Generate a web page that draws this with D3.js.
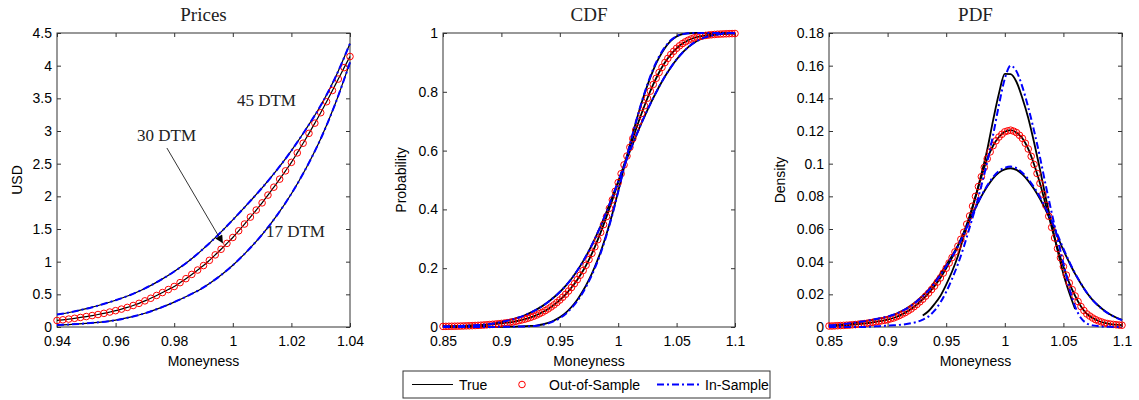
<!DOCTYPE html>
<html><head><meta charset="utf-8">
<script src="https://cdn.jsdelivr.net/npm/d3@7"></script>
<style>body{margin:0;background:#fff;} svg{display:block;}</style>
</head><body>
<svg id="chart" width="1139" height="400"></svg>
<script>
// ---------- DATA ----------
// Prices panel (x = moneyness)
const priceGridStart = 0.94, priceGridStep = 0.005;      // 17 & 45 DTM curves
const priceOutStart = 0.94, priceOutStep = 0.002;        // 30 DTM curve / circles
const price17True = [0.030,0.040,0.055,0.075,0.105,0.150,0.210,0.288,0.380,0.485,0.605,0.760,0.945,1.165,1.415,1.705,2.040,2.430,2.880,3.420,4.050];
const price45True = [0.190,0.230,0.280,0.340,0.410,0.490,0.590,0.710,0.850,1.010,1.200,1.410,1.640,1.880,2.130,2.400,2.700,3.030,3.390,3.820,4.340];
const price30True = [0.100,0.110,0.121,0.133,0.146,0.160,0.175,0.191,0.209,0.229,0.250,0.274,0.300,0.329,0.362,0.400,0.440,0.483,0.527,0.573,0.620,0.679,0.740,0.805,0.872,0.940,1.020,1.104,1.190,1.280,1.370,1.472,1.576,1.682,1.790,1.900,2.019,2.140,2.263,2.390,2.520,2.665,2.813,2.964,3.120,3.280,3.448,3.620,3.795,3.970,4.140];
const price30Out = price30True.slice();
const price17In = price17True.slice();
const price45In = price45True.slice();

// CDF / PDF panels
const distStart = 0.85, distStep = 0.005, outStep = 0.0025;
const cdf17True = [0,0,0,0,0.0001,0.0001,0.0002,0.0003,0.0004,0.0006,0.0008,0.0010,0.0014,0.0019,0.0026,0.0035,0.0050,0.0085,0.0140,0.0220,0.0330,0.0480,0.0680,0.0930,0.1240,0.1610,0.2050,0.2560,0.3160,0.3850,0.4620,0.5420,0.6200,0.6940,0.7620,0.8220,0.8740,0.9160,0.9490,0.9730,0.9880,0.9960,0.9990,1,1,1,1,1,1,1,1];
const cdf30True = [0.0020,0.0023,0.0027,0.0032,0.0039,0.0046,0.0056,0.0068,0.0082,0.0100,0.0121,0.0146,0.0177,0.0217,0.0266,0.0328,0.0405,0.0500,0.0615,0.0752,0.0917,0.1113,0.1343,0.1611,0.1921,0.2292,0.2727,0.3217,0.3754,0.4324,0.4914,0.5514,0.6113,0.6699,0.7260,0.7781,0.8250,0.8656,0.8995,0.9268,0.9480,0.9640,0.9755,0.9834,0.9885,0.9919,0.9942,0.9958,0.9969,0.9977,0.9983];
const cdf45True = [0.0020,0.0025,0.0030,0.0036,0.0043,0.0052,0.0064,0.0080,0.0100,0.0130,0.0170,0.0215,0.0265,0.0325,0.0400,0.0490,0.0590,0.0710,0.0850,0.1010,0.1190,0.1400,0.1640,0.1920,0.2240,0.2600,0.3000,0.3440,0.3920,0.4430,0.4950,0.5470,0.5980,0.6470,0.6940,0.7380,0.7790,0.8170,0.8520,0.8830,0.9100,0.9330,0.9520,0.9670,0.9780,0.9860,0.9915,0.9950,0.9972,0.9985,0.9992];
const cdf30Out = [0.0020,0.0021,0.0023,0.0025,0.0027,0.0029,0.0032,0.0035,0.0039,0.0042,0.0046,0.0051,0.0056,0.0062,0.0068,0.0075,0.0082,0.0091,0.0100,0.0110,0.0121,0.0133,0.0146,0.0161,0.0177,0.0196,0.0217,0.0241,0.0266,0.0296,0.0328,0.0365,0.0405,0.0451,0.0500,0.0556,0.0615,0.0682,0.0752,0.0832,0.0917,0.1012,0.1113,0.1224,0.1343,0.1474,0.1611,0.1762,0.1921,0.2100,0.2292,0.2505,0.2727,0.2969,0.3217,0.3482,0.3754,0.4037,0.4324,0.4617,0.4914,0.5214,0.5514,0.5815,0.6113,0.6408,0.6699,0.6984,0.7260,0.7525,0.7781,0.8021,0.8250,0.8459,0.8656,0.8831,0.8995,0.9136,0.9268,0.9378,0.9480,0.9564,0.9640,0.9700,0.9755,0.9797,0.9834,0.9862,0.9885,0.9903,0.9919,0.9931,0.9942,0.9951,0.9958,0.9964,0.9969,0.9973,0.9977,0.9980,0.9983];
const cdf17In = [0,0,0,0,0,0,0.0001,0.0002,0.0003,0.0004,0.0006,0.0008,0.0011,0.0015,0.0021,0.0029,0.0042,0.0072,0.0122,0.0198,0.0302,0.0445,0.0640,0.0885,0.1190,0.1560,0.2000,0.2515,0.3120,0.3820,0.4600,0.5410,0.6200,0.6950,0.7640,0.8250,0.8780,0.9200,0.9520,0.9750,0.9890,0.9960,0.9990,1,1,1,1,1,1,1,1];
const cdf45In = cdf45True.slice();

const pdf17Start = 0.93;
const pdf17True = [0.0070,0.0098,0.0140,0.0190,0.0260,0.0340,0.0435,0.0555,0.0670,0.0795,0.0935,0.1085,0.1265,0.1430,0.1550,0.1548,0.1500,0.1400,0.1280,0.1130,0.0965,0.0790,0.0630,0.0470,0.0325,0.0210,0.0110];
const pdf17In = [0,0,0,0,0,0,0,0.0002,0.0004,0.0006,0.0008,0.0010,0.0013,0.0017,0.0023,0.0031,0.0045,0.0065,0.0100,0.0150,0.0215,0.0295,0.0385,0.0490,0.0610,0.0730,0.0865,0.1010,0.1175,0.1360,0.1520,0.1600,0.1565,0.1470,0.1345,0.1200,0.1040,0.0865,0.0700,0.0540,0.0390,0.0240,0.0125,0.0055,0.0022,0.0010,0.0005,0.0002,0.0001,0,0];
const pdf30True = [0.0006,0.0007,0.0009,0.0011,0.0014,0.0017,0.0021,0.0026,0.0032,0.0038,0.0045,0.0055,0.0070,0.0088,0.0110,0.0138,0.0170,0.0208,0.0250,0.0300,0.0360,0.0425,0.0495,0.0580,0.0680,0.0800,0.0920,0.1030,0.1110,0.1163,0.1195,0.1205,0.1190,0.1155,0.1090,0.0995,0.0880,0.0745,0.0610,0.0480,0.0370,0.0270,0.0190,0.0125,0.0080,0.0055,0.0037,0.0025,0.0018,0.0014,0.0011];
const pdf30Out = [0.0006,0.0006,0.0007,0.0008,0.0009,0.0010,0.0011,0.0012,0.0014,0.0015,0.0017,0.0019,0.0021,0.0023,0.0026,0.0029,0.0032,0.0035,0.0038,0.0041,0.0045,0.0050,0.0055,0.0062,0.0070,0.0079,0.0088,0.0099,0.0110,0.0124,0.0138,0.0154,0.0170,0.0189,0.0208,0.0229,0.0250,0.0275,0.0300,0.0330,0.0360,0.0392,0.0425,0.0460,0.0495,0.0537,0.0580,0.0630,0.0680,0.0740,0.0800,0.0860,0.0920,0.0977,0.1030,0.1072,0.1110,0.1140,0.1163,0.1180,0.1195,0.1201,0.1205,0.1199,0.1190,0.1174,0.1155,0.1125,0.1090,0.1045,0.0995,0.0940,0.0880,0.0813,0.0745,0.0678,0.0610,0.0545,0.0480,0.0424,0.0370,0.0318,0.0270,0.0229,0.0190,0.0156,0.0125,0.0101,0.0080,0.0067,0.0055,0.0045,0.0037,0.0031,0.0025,0.0021,0.0018,0.0016,0.0014,0.0012,0.0011];
const pdf45True = [0.0010,0.0012,0.0015,0.0019,0.0023,0.0028,0.0034,0.0040,0.0047,0.0054,0.0062,0.0074,0.0090,0.0109,0.0132,0.0160,0.0192,0.0228,0.0275,0.0325,0.0380,0.0437,0.0500,0.0575,0.0655,0.0730,0.0800,0.0860,0.0910,0.0945,0.0965,0.0972,0.0962,0.0935,0.0895,0.0845,0.0785,0.0715,0.0640,0.0555,0.0470,0.0395,0.0325,0.0265,0.0210,0.0165,0.0130,0.0100,0.0077,0.0058,0.0043];
const pdf45In = [0.0011,0.0013,0.0016,0.0020,0.0025,0.0030,0.0036,0.0042,0.0049,0.0056,0.0064,0.0075,0.0090,0.0108,0.0130,0.0157,0.0188,0.0224,0.0268,0.0318,0.0372,0.0430,0.0493,0.0568,0.0650,0.0728,0.0802,0.0866,0.0918,0.0955,0.0975,0.0982,0.0972,0.0945,0.0905,0.0855,0.0795,0.0725,0.0650,0.0565,0.0480,0.0400,0.0328,0.0266,0.0210,0.0165,0.0129,0.0099,0.0076,0.0057,0.0042];

// Tick values and labels
const priceXTicks = [0.94,0.96,0.98,1.00,1.02,1.04];
const priceXLabels = ["0.94","0.96","0.98","1","1.02","1.04"];
const priceYTicks = [0,0.5,1,1.5,2,2.5,3,3.5,4,4.5];
const priceYLabels = ["0","0.5","1","1.5","2","2.5","3","3.5","4","4.5"];
const distXTicks = [0.85,0.90,0.95,1.00,1.05,1.10];
const distXLabels = ["0.85","0.9","0.95","1","1.05","1.1"];
const cdfYTicks = [0,0.2,0.4,0.6,0.8,1];
const cdfYLabels = ["0","0.2","0.4","0.6","0.8","1"];
const pdfYTicks = [0,0.02,0.04,0.06,0.08,0.10,0.12,0.14,0.16,0.18];
const pdfYLabels = ["0","0.02","0.04","0.06","0.08","0.1","0.12","0.14","0.16","0.18"];
const legendLabels = ["True","Out-of-Sample","In-Sample"];
const annotations = [["45 DTM", 1.0014, 3.38], ["30 DTM", 0.9673, 2.85], ["17 DTM", 1.0113, 1.37]];

// ---------- DRAWING ----------
const svg = d3.select("#chart");
const SANS = "'Liberation Sans', Arial, Helvetica, sans-serif";
const SERIF = "'Liberation Serif', 'Times New Roman', serif";
const TOP = 33, BOT = 327;
const DASH = "7,3,2,3";

function pts(vals, start, step) { return vals.map((v, i) => [start + i * step, v]); }

function panel(cfg) {
  const x = d3.scaleLinear().domain(cfg.xd).range([cfg.x0, cfg.x1]);
  const y = d3.scaleLinear().domain(cfg.yd).range([BOT, TOP]);
  const g = svg.append("g");
  const fmtX = d => cfg.xl[cfg.xt.indexOf(d)];
  const fmtY = d => cfg.yl[cfg.yt.indexOf(d)];
  const style = sel => {
    sel.select(".domain").remove();
    sel.selectAll(".tick line").attr("stroke", "#333");
    sel.selectAll(".tick text").attr("font-family", SANS).attr("font-size", 14).attr("fill", "#000");
  };
  g.append("g").attr("transform", `translate(0,${BOT})`)
    .call(d3.axisBottom(x).tickValues(cfg.xt).tickFormat(fmtX).tickSizeInner(-4).tickSizeOuter(0).tickPadding(9)).call(style);
  g.append("g").attr("transform", `translate(0,${TOP})`)
    .call(d3.axisTop(x).tickValues(cfg.xt).tickFormat("").tickSizeInner(-4).tickSizeOuter(0)).call(style);
  g.append("g").attr("transform", `translate(${cfg.x0},0)`)
    .call(d3.axisLeft(y).tickValues(cfg.yt).tickFormat(fmtY).tickSizeInner(-4).tickSizeOuter(0).tickPadding(5)).call(style);
  g.append("g").attr("transform", `translate(${cfg.x1},0)`)
    .call(d3.axisRight(y).tickValues(cfg.yt).tickFormat("").tickSizeInner(-4).tickSizeOuter(0)).call(style);
  g.append("rect").attr("x", cfg.x0).attr("y", TOP).attr("width", cfg.x1 - cfg.x0).attr("height", BOT - TOP)
    .attr("fill", "none").attr("stroke", "#333").attr("stroke-width", 1);

  g.append("text").attr("x", (cfg.x0 + cfg.x1) / 2).attr("y", 21).attr("text-anchor", "middle")
    .attr("font-family", SERIF).attr("font-size", 19).attr("fill", "#222").text(cfg.title);
  g.append("text").attr("x", (cfg.x0 + cfg.x1) / 2).attr("y", 366).attr("text-anchor", "middle")
    .attr("font-family", SANS).attr("font-size", 14).text("Moneyness");
  g.append("text").attr("transform", `translate(${cfg.ylx},180) rotate(-90)`).attr("text-anchor", "middle")
    .attr("font-family", SANS).attr("font-size", 14).text(cfg.ylabel);

  const line = d3.line().x(d => x(d[0])).y(d => y(d[1])).curve(d3.curveMonotoneX);
  cfg.trueSeries.forEach(s => g.append("path").attr("d", line(s)).attr("fill", "none")
    .attr("stroke", "#000").attr("stroke-width", cfg.blackW));
  g.append("g").selectAll("circle").data(cfg.outSeries).join("circle")
    .attr("cx", d => x(d[0])).attr("cy", d => y(d[1])).attr("r", 3.3)
    .attr("fill", "none").attr("stroke", "#ff0000").attr("stroke-width", 1);
  cfg.inSeries.forEach(s => g.append("path").attr("d", line(s)).attr("fill", "none")
    .attr("stroke", "#0000ff").attr("stroke-width", 2).attr("stroke-dasharray", DASH));
  return { g, x, y };
}

// Prices
const P = panel({
  title: "Prices", ylabel: "USD", ylx: 21.5, blackW: 1.2,
  x0: 57, x1: 350, xd: [0.94, 1.04], yd: [0, 4.5],
  xt: priceXTicks, xl: priceXLabels, yt: priceYTicks, yl: priceYLabels,
  trueSeries: [pts(price17True, priceGridStart, priceGridStep), pts(price30True, priceOutStart, priceOutStep), pts(price45True, priceGridStart, priceGridStep)],
  outSeries: pts(price30Out, priceOutStart, priceOutStep),
  inSeries: [pts(price17In, priceGridStart, priceGridStep), pts(price45In, priceGridStart, priceGridStep)]
});
annotations.forEach(a => P.g.append("text").attr("x", P.x(a[1])).attr("y", P.y(a[2]))
  .attr("font-family", SERIF).attr("font-size", 17).attr("fill", "#222").text(a[0]));
svg.append("defs").append("marker").attr("id", "ah").attr("viewBox", "0 0 10 10")
  .attr("refX", 10).attr("refY", 5).attr("markerWidth", 10).attr("markerHeight", 8)
  .attr("markerUnits", "userSpaceOnUse").attr("orient", "auto")
  .append("path").attr("d", "M0,0 L10,5 L0,10 Z").attr("fill", "#000");
P.g.append("line").attr("x1", P.x(0.9775)).attr("y1", P.y(2.74)).attr("x2", P.x(0.9966)).attr("y2", P.y(1.28))
  .attr("stroke", "#000").attr("stroke-width", 0.8).attr("marker-end", "url(#ah)");

// CDF
panel({
  title: "CDF", ylabel: "Probability", ylx: 406, blackW: 1.8,
  x0: 443, x1: 735, xd: [0.85, 1.1], yd: [0, 1],
  xt: distXTicks, xl: distXLabels, yt: cdfYTicks, yl: cdfYLabels,
  trueSeries: [pts(cdf17True, distStart, distStep), pts(cdf30True, distStart, distStep), pts(cdf45True, distStart, distStep)],
  outSeries: pts(cdf30Out, distStart, outStep),
  inSeries: [pts(cdf17In, distStart, distStep), pts(cdf45In, distStart, distStep)]
});

// PDF
panel({
  title: "PDF", ylabel: "Density", ylx: 785, blackW: 1.8,
  x0: 829, x1: 1122, xd: [0.85, 1.1], yd: [0, 0.18],
  xt: distXTicks, xl: distXLabels, yt: pdfYTicks, yl: pdfYLabels,
  trueSeries: [pts(pdf17True, pdf17Start, distStep), pts(pdf30True, distStart, distStep), pts(pdf45True, distStart, distStep)],
  outSeries: pts(pdf30Out, distStart, outStep),
  inSeries: [pts(pdf17In, distStart, distStep), pts(pdf45In, distStart, distStep)]
});

// Legend
const L = svg.append("g");
L.append("rect").attr("x", 403).attr("y", 371).attr("width", 367).attr("height", 27)
  .attr("fill", "#fff").attr("stroke", "#333").attr("stroke-width", 1);
L.append("line").attr("x1", 412).attr("x2", 453).attr("y1", 384.5).attr("y2", 384.5).attr("stroke", "#000").attr("stroke-width", 1.2);
L.append("circle").attr("cx", 522).attr("cy", 384.5).attr("r", 3.3).attr("fill", "none").attr("stroke", "#ff0000");
L.append("line").attr("x1", 657).attr("x2", 702).attr("y1", 384.5).attr("y2", 384.5).attr("stroke", "#0000ff")
  .attr("stroke-width", 2).attr("stroke-dasharray", DASH);
[[459, legendLabels[0]], [549, legendLabels[1]], [705, legendLabels[2]]].forEach(t =>
  L.append("text").attr("x", t[0]).attr("y", 389.5).attr("font-family", SANS).attr("font-size", 14).text(t[1]));
</script>
</body></html>
